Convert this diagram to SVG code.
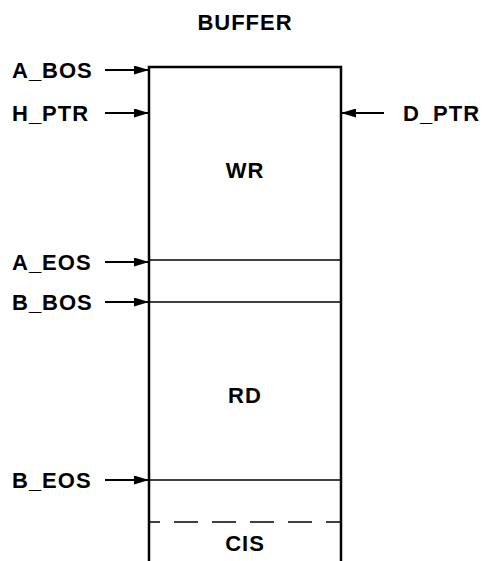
<svg xmlns="http://www.w3.org/2000/svg" width="484" height="561" viewBox="0 0 484 561">
<style>
text{font-family:"Liberation Sans",Arial,sans-serif;font-weight:bold;font-size:22px;letter-spacing:1px;fill:#000}
.lbl{text-anchor:start}
.c{text-anchor:middle}
.w{stroke:#000;stroke-width:2.5;fill:none}
.h{stroke:#000;stroke-width:1.6;fill:none}
.a{stroke:#000;stroke-width:2;fill:none}
</style>
<defs>
<marker id="ah" markerWidth="15" markerHeight="9" refX="15" refY="4.5" orient="auto" markerUnits="userSpaceOnUse">
<path d="M0,0 L15,4.5 L0,9 Z" fill="#000"/>
</marker>
</defs>
<g id="buffer">
<text class="c" x="245" y="30">BUFFER</text>
<path class="w" d="M149,561 V67 H341 V561"/>
<line class="h" x1="149" y1="260" x2="341" y2="260"/>
<line class="h" x1="149" y1="302" x2="341" y2="302"/>
<line class="h" x1="149" y1="480" x2="341" y2="480"/>
<line class="h" x1="149" y1="522" x2="341" y2="522" stroke-dasharray="24 14" stroke-dashoffset="13"/>
</g>
<g id="wr"><text class="c" x="245" y="178">WR</text></g>
<g id="rd"><text class="c" x="245" y="403">RD</text></g>
<g id="cis"><text class="c" x="245" y="551">CIS</text></g>
<g id="a_bos"><text class="lbl" x="12" y="78">A_BOS</text></g>
<g id="h_ptr"><text class="lbl" x="12" y="121">H_PTR</text></g>
<g id="a_eos"><text class="lbl" x="12" y="270">A_EOS</text></g>
<g id="b_bos"><text class="lbl" x="12" y="310">B_BOS</text></g>
<g id="b_eos"><text class="lbl" x="12" y="488">B_EOS</text></g>
<g id="d_ptr"><text class="lbl" x="403" y="121">D_PTR</text></g>
<g id="connectors">
<line class="a" x1="105" y1="70" x2="149" y2="70" marker-end="url(#ah)"/>
<line class="a" x1="105" y1="113" x2="149" y2="113" marker-end="url(#ah)"/>
<line class="a" x1="105" y1="262" x2="149" y2="262" marker-end="url(#ah)"/>
<line class="a" x1="105" y1="302" x2="149" y2="302" marker-end="url(#ah)"/>
<line class="a" x1="105" y1="480" x2="149" y2="480" marker-end="url(#ah)"/>
<line class="a" x1="384" y1="113" x2="341" y2="113" marker-end="url(#ah)"/>
</g>
</svg>
